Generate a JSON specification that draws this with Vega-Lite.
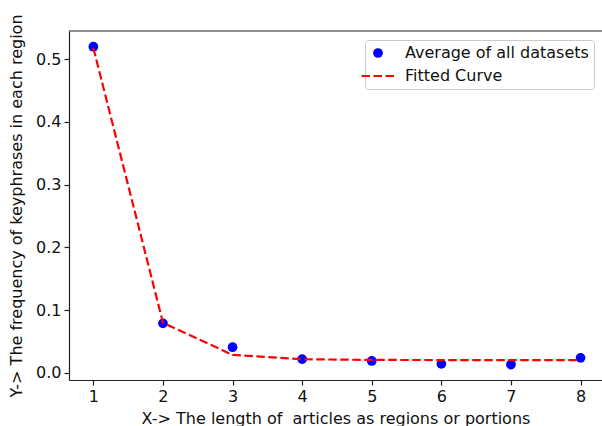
{
  "$schema": "https://vega.github.io/schema/vega-lite/v6.json",
  "autosize": "none",
  "width": 533,
  "height": 349,
  "padding": {"left": 69, "top": 31, "right": 0, "bottom": 46},
  "background": "white",
  "config": {
    "font": "DejaVu Sans",
    "view": {"stroke": null},
    "axis": {
      "grid": false,
      "domainColor": "#222",
      "domainWidth": 1.2,
      "tickColor": "#222",
      "tickWidth": 1.2,
      "tickSize": 5,
      "labelFont": "DejaVu Sans",
      "labelFontSize": 16,
      "labelColor": "#111",
      "labelPadding": 3,
      "titleFont": "DejaVu Sans",
      "titleFontSize": 16,
      "titleFontWeight": "normal",
      "titleColor": "#111"
    },
    "legend": {
      "title": null,
      "orient": "none",
      "legendX": 296,
      "legendY": 9,
      "direction": "vertical",
      "padding": 5,
      "strokeColor": "#cccccc",
      "fillColor": "white",
      "cornerRadius": 3,
      "labelFont": "DejaVu Sans",
      "labelFontSize": 16,
      "labelColor": "#111",
      "labelLimit": 400,
      "labelOffset": 19,
      "rowPadding": 7,
      "symbolSize": 1089
    }
  },
  "datasets": {
    "avg": [
      {"x": 1, "y": 0.520, "series": "Average of all datasets"},
      {"x": 2, "y": 0.079, "series": "Average of all datasets"},
      {"x": 3, "y": 0.041, "series": "Average of all datasets"},
      {"x": 4, "y": 0.022, "series": "Average of all datasets"},
      {"x": 5, "y": 0.019, "series": "Average of all datasets"},
      {"x": 6, "y": 0.0144, "series": "Average of all datasets"},
      {"x": 7, "y": 0.0133, "series": "Average of all datasets"},
      {"x": 8, "y": 0.024, "series": "Average of all datasets"}
    ],
    "fit": [
      {"x": 1, "y": 0.518, "series": "Fitted Curve"},
      {"x": 2, "y": 0.080, "series": "Fitted Curve"},
      {"x": 3, "y": 0.0287, "series": "Fitted Curve"},
      {"x": 4, "y": 0.0218, "series": "Fitted Curve"},
      {"x": 5, "y": 0.0207, "series": "Fitted Curve"},
      {"x": 6, "y": 0.0205, "series": "Fitted Curve"},
      {"x": 7, "y": 0.0204, "series": "Fitted Curve"},
      {"x": 8, "y": 0.0204, "series": "Fitted Curve"}
    ],
    "frame": [
      {"top": 0.545}
    ]
  },
  "layer": [
    {
      "data": {"name": "frame"},
      "mark": {"type": "rule", "color": "#222", "strokeWidth": 1.2},
      "encoding": {
        "y": {"field": "top", "type": "quantitative", "scale": {"domain": [-0.0113, 0.545], "nice": false, "zero": false}}
      }
    },
    {
      "data": {"name": "avg"},
      "mark": {"type": "point", "shape": "circle", "filled": true, "size": 95, "opacity": 1},
      "encoding": {
        "x": {
          "field": "x", "type": "quantitative",
          "scale": {"domain": [0.65, 8.308], "nice": false, "zero": false},
          "axis": {"values": [1, 2, 3, 4, 5, 6, 7, 8], "format": "d", "title": "X-> The length of \u00a0articles as regions or portions", "titlePadding": 6}
        },
        "y": {
          "field": "y", "type": "quantitative",
          "scale": {"domain": [-0.0113, 0.545], "nice": false, "zero": false},
          "axis": {"values": [0, 0.1, 0.2, 0.3, 0.4, 0.5], "format": ".1f", "title": "Y-> The frequency of keyphrases in each region", "titlePadding": 11}
        },
        "color": {
          "field": "series", "type": "nominal",
          "scale": {"domain": ["Average of all datasets", "Fitted Curve"], "range": ["#0000ff", "#ff0000"]},
          "legend": {
            "encode": {
              "symbols": {
                "update": {
                  "shape": {"signal": "datum.value === 'Fitted Curve' ? 'stroke' : 'circle'"},
                  "size": {"signal": "datum.value === 'Fitted Curve' ? 1089 : 95"},
                  "fill": {"signal": "datum.value === 'Fitted Curve' ? 'transparent' : '#0000ff'"},
                  "stroke": {"signal": "datum.value === 'Fitted Curve' ? '#ff0000' : '#0000ff'"},
                  "strokeWidth": {"signal": "datum.value === 'Fitted Curve' ? 2.2 : 0"},
                  "strokeDash": {"signal": "datum.value === 'Fitted Curve' ? [8.5, 3.5] : [1, 0]"},
                  "opacity": {"value": 1}
                }
              }
            }
          }
        }
      }
    },
    {
      "data": {"name": "fit"},
      "mark": {"type": "line", "strokeWidth": 2.2, "strokeDash": [8.5, 3.5]},
      "encoding": {
        "x": {"field": "x", "type": "quantitative"},
        "y": {"field": "y", "type": "quantitative"},
        "color": {
          "field": "series", "type": "nominal",
          "legend": {
            "encode": {
              "symbols": {
                "update": {
                  "shape": {"signal": "datum.value === 'Fitted Curve' ? 'stroke' : 'circle'"},
                  "size": {"signal": "datum.value === 'Fitted Curve' ? 1089 : 95"},
                  "fill": {"signal": "datum.value === 'Fitted Curve' ? 'transparent' : '#0000ff'"},
                  "stroke": {"signal": "datum.value === 'Fitted Curve' ? '#ff0000' : '#0000ff'"},
                  "strokeWidth": {"signal": "datum.value === 'Fitted Curve' ? 2.2 : 0"},
                  "strokeDash": {"signal": "datum.value === 'Fitted Curve' ? [8.5, 3.5] : [1, 0]"},
                  "opacity": {"value": 1}
                }
              }
            }
          }
        }
      }
    }
  ]
}
